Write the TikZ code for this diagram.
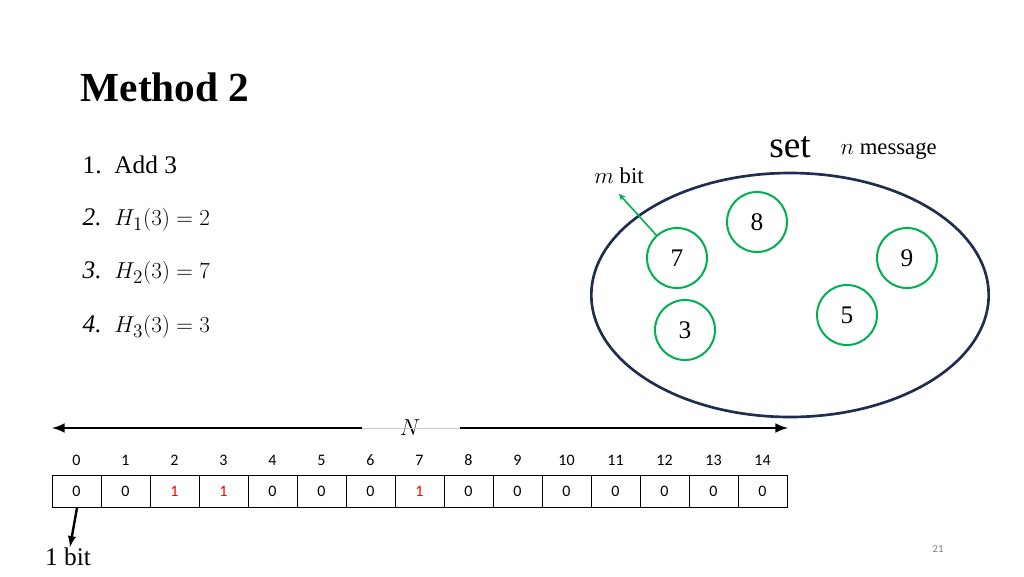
\documentclass[tikz,border=0pt]{standalone}
\usepackage{fontspec}
\usetikzlibrary{shapes.geometric}
\setmainfont{Liberation Serif}
\newfontfamily\calfnt{Carlito}
\definecolor{gr}{RGB}{0,176,80}
\definecolor{nv}{RGB}{31,45,78}
\begin{document}
\begin{tikzpicture}[x=0.75pt,y=-0.75pt,
  cell/.style={draw,minimum width=49*0.75pt,minimum height=32*0.75pt,inner sep=0,font=\calfnt\fontsize{12}{12}\selectfont},
  idx/.style={font=\calfnt\fontsize{12}{12}\selectfont},
  elt/.style={draw=gr,line width=1.5pt,circle,minimum size=45pt,inner sep=0,font=\fontsize{19}{19}\selectfont},
  item/.style={anchor=west,font=\fontsize{19}{19}\selectfont}]
\useasboundingbox (0,0) rectangle (1024,576);
\node[anchor=west,font=\bfseries\fontsize{31}{31}\selectfont] (t) at (76,87) {Method 2};
\node[item] (i1) at (78,165) {1.\enspace Add 3};
\node[item] (i2) at (78,220) {\textit{2.}\enspace $H_1(3)=2$};
\node[item] (i3) at (78,273) {\textit{3.}\enspace $H_2(3)=7$};
\node[item] (i4) at (78,327) {\textit{4.}\enspace $H_3(3)=3$};
\node[draw=nv,line width=2pt,ellipse,minimum width=298pt,minimum height=183pt] (e) at (790,295) {};
\node[font=\fontsize{28}{28}\selectfont] (set) at (790,147) {set};
\node[anchor=west,font=\fontsize{17}{17}\selectfont] (msg) at (836,151) {$n$ message};
\node[elt] (c8) at (757,222) {8};
\node[elt] (c7) at (677,258) {7};
\node[elt] (c9) at (907,258) {9};
\node[elt] (c5) at (847,315) {5};
\node[elt] (c3) at (685,330) {3};
\node[font=\fontsize{17}{17}\selectfont] (mb) at (619,176) {$m$ bit};
\coordinate (mt) at (619,194);
\draw[gr,line width=1.2pt,-stealth] (c7) -- (mt);
\foreach \i/\v in {0/0,1/0,2/1,3/1,4/0,5/0,6/0,7/1,8/0,9/0,10/0,11/0,12/0,13/0,14/0}{
  \node[cell] (b\i) at (76.5+49*\i,491) {\ifnum\v=1 \textcolor{red}{1}\else 0\fi};
  \node[idx] (n\i) at (76.5+49*\i,460) {\i};
}
\node[font=\fontsize{17}{17}\selectfont] (N) at (410,428) {$N$};
\coordinate (la) at (52,428); \coordinate (ra) at (788,428);
\coordinate (lg) at (362,428); \coordinate (rg) at (460,428);
\draw[line width=2.2pt,-latex] (lg) -- (la);
\draw[line width=2.2pt,-latex] (rg) -- (ra);
\draw[gray!40,line width=0.6pt] (lg) -- (rg);
\node[font=\fontsize{19}{19}\selectfont] (ob) at (68,557) {1 bit};
\coordinate (os) at (77,508); \coordinate (oe) at (70,547);
\draw[line width=1.8pt,-{latex[scale=1.3]}] (os) -- (oe);
\node[gray,font=\calfnt\fontsize{8}{8}\selectfont] (pg) at (938,549) {21};
\end{tikzpicture}
\end{document}
